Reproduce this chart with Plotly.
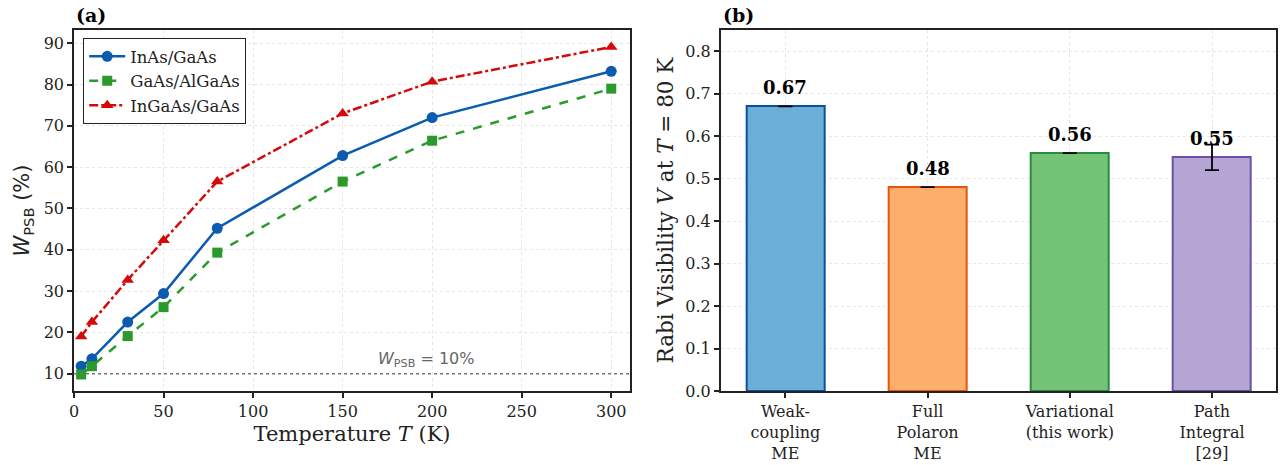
import plotly.graph_objects as go

# ---------------- data ----------------
temperatures = [4, 10, 30, 50, 80, 150, 200, 300]
w_inas_gaas = [11.8, 13.6, 22.5, 29.4, 45.2, 62.8, 72.0, 83.2]
w_gaas_algaas = [9.8, 11.8, 19.1, 26.1, 39.3, 56.5, 66.4, 79.0]
w_ingaas_gaas = [19.0, 22.5, 32.7, 42.3, 56.5, 73.0, 80.7, 89.1]
series_names = ["InAs/GaAs", "GaAs/AlGaAs", "InGaAs/GaAs"]
threshold_value = 10

methods = ["Weak-<br>coupling<br>ME", "Full<br>Polaron<br>ME", "Variational<br>(this work)", "Path<br>Integral<br>[29]"]
visibility = [0.67, 0.48, 0.56, 0.55]
visibility_err = [0.0, 0.0, 0.0, 0.03]
value_labels = ["0.67", "0.48", "0.56", "0.55"]

x_ticks_a = [0, 50, 100, 150, 200, 250, 300]
y_ticks_a = [10, 20, 30, 40, 50, 60, 70, 80, 90]
y_ticks_b = [0.0, 0.1, 0.2, 0.3, 0.4, 0.5, 0.6, 0.7, 0.8]

# ---------------- styles ----------------
SERIF = "DejaVu Serif"
SANS = "DejaVu Sans"
line_colors = ["#0a5cb0", "#2a9a2a", "#d40a0a"]
dashes = ["solid", "dash", "dashdot"]
symbols = ["circle", "square", "triangle-up"]
bar_fill = ["#6baed6", "#fdae6b", "#74c476", "#b4a5d4"]
bar_edge = ["#0a4f9c", "#e6550d", "#2a8a45", "#6a51a3"]

fig = go.Figure()

for name, vals, c, d, s in zip(series_names, [w_inas_gaas, w_gaas_algaas, w_ingaas_gaas],
                               line_colors, dashes, symbols):
    fig.add_trace(go.Scatter(
        x=temperatures, y=vals, name=name, mode="lines+markers",
        line=dict(color=c, width=2.5, dash=d),
        marker=dict(symbol=s, size=11 if s != "square" else 10, color=c),
        xaxis="x", yaxis="y",
    ))

# threshold line
fig.add_trace(go.Scatter(
    x=[0, 310.5], y=[threshold_value, threshold_value], mode="lines",
    line=dict(color="#777777", width=1.5, dash="dot"), showlegend=False,
    hoverinfo="skip", xaxis="x", yaxis="y",
))

fig.add_trace(go.Bar(
    x=list(range(len(methods))), y=visibility, width=0.55,
    marker=dict(color=bar_fill, line=dict(color=bar_edge, width=2)),
    error_y=dict(type="data", array=visibility_err, color="black", thickness=1.8, width=7),
    showlegend=False, xaxis="x2", yaxis="y2",
))

grid = dict(showgrid=True, gridcolor="#e6e6e6", griddash="dot", gridwidth=1)
axis_common = dict(showline=True, linecolor="#222222", linewidth=1.5, mirror=True,
                   ticks="outside", ticklen=5, tickwidth=1.5, tickcolor="#222222",
                   tickfont=dict(family=SERIF, size=16, color="#222222"), zeroline=False, **grid)

fig.update_layout(
    width=1280, height=465,
    paper_bgcolor="white", plot_bgcolor="white",
    margin=dict(l=74, r=2, t=30, b=69),
    font=dict(family=SERIF, color="#222222"),
    xaxis=dict(domain=[0, 0.4626], range=[0, 310.5], tickvals=x_ticks_a,
               title=dict(text="Temperature <i>T</i> (K)", font=dict(family=SERIF, size=21), standoff=6),
               anchor="y", **axis_common),
    yaxis=dict(range=[5.8, 93.2], tickvals=y_ticks_a, anchor="x",
               title=dict(text="<i>W</i><sub>PSB</sub> (%)", font=dict(family=SANS, size=21), standoff=8),
               **axis_common),
    xaxis2=dict(domain=[0.538, 1], range=[-0.455, 3.45], tickvals=list(range(len(methods))),
                ticktext=methods, anchor="y2", **axis_common),
    yaxis2=dict(range=[0, 0.85], tickvals=y_ticks_b, ticktext=[f"{v:.1f}" for v in y_ticks_b],
                anchor="x2",
                title=dict(text="Rabi Visibility <i>V</i> at <i>T</i> = 80 K", font=dict(family=SERIF, size=21.5), standoff=6),
                **axis_common),
    legend=dict(x=0.0075, y=0.978, xanchor="left", yanchor="top",
                bgcolor="white", bordercolor="#222222", borderwidth=1.2,
                font=dict(family=SERIF, size=16.5), tracegroupgap=0, itemwidth=36),
    bargap=0,
)

annotations = [
    dict(text="<b>(a)</b>", xref="paper", yref="paper", x=0, y=1, xanchor="left", yanchor="bottom",
         yshift=2, showarrow=False, font=dict(family=SERIF, size=19, color="black")),
    dict(text="<b>(b)</b>", xref="paper", yref="paper", x=0.538, y=1, xanchor="left", yanchor="bottom",
         yshift=2, showarrow=False, font=dict(family=SERIF, size=19, color="black")),
    dict(text="<i>W</i><sub>PSB</sub> = 10%", xref="x", yref="y", x=197, y=threshold_value,
         xanchor="center", yanchor="bottom", yshift=2, showarrow=False,
         font=dict(family=SANS, size=16, color="#666666")),
]
for i, (v, lab) in enumerate(zip(visibility, value_labels)):
    annotations.append(dict(text=f"<b>{lab}</b>", xref="x2", yref="y2", x=i, y=v,
                            xanchor="center", yanchor="bottom", yshift=6, showarrow=False,
                            font=dict(family=SERIF, size=18, color="black")))
fig.update_layout(annotations=annotations)

fig.write_html("out.html", config={"displayModeBar": False},
               post_script="document.body.style.margin='0px';document.body.style.overflow='hidden';")
